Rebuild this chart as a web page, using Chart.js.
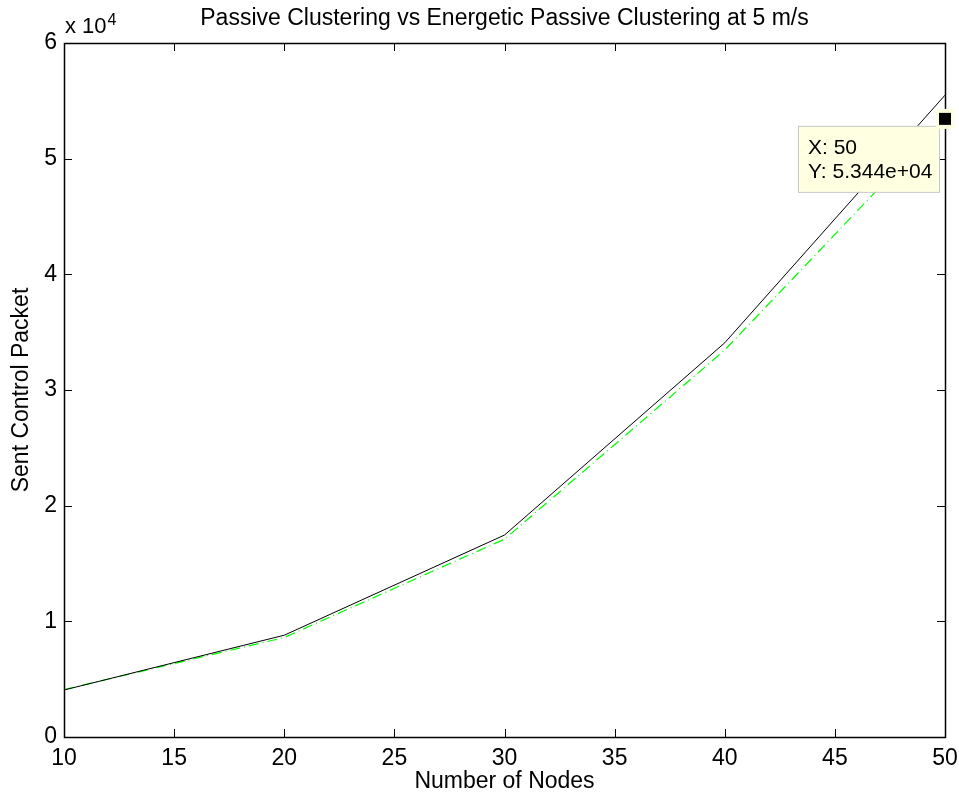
<!DOCTYPE html>
<html>
<head>
<meta charset="utf-8">
<script src="https://cdn.jsdelivr.net/npm/chart.js@4"></script>
<style>
    html, body { margin: 0; padding: 0; background: #fff; }
    #wrap { width: 959px; height: 798px; }
</style>
</head>
<body>
<div id="wrap"><canvas id="pcChart" width="959" height="798"></canvas></div>
<script>
// Data
const nodeCounts = [10, 20, 30, 40, 50];
const passiveClustering = [4060, 8800, 17460, 34080, 55490];
const energeticPassiveClustering = [4100, 8600, 17100, 33450, 53440];
const xTickValues = [10, 15, 20, 25, 30, 35, 40, 45, 50];
const yTickValues = [0, 10000, 20000, 30000, 40000, 50000, 60000];

// Data tip shown on the plot
const tipX = 50;
const tipY = 53440;
const tipLines = ['X: 50', 'Y: 5.344e+04'];

const chartTitle = 'Passive Clustering vs Energetic Passive Clustering at 5 m/s';
const FONT = '"Liberation Sans", Arial, Helvetica, sans-serif';

function toPoints(xs, ys) {
    return xs.map((x, i) => ({ x: x, y: ys[i] }));
}

// MATLAB style box with inward ticks, title over the axes, exponent label and data tip
const matlabAxes = {
    id: 'matlabAxes',
    afterDatasetsDraw(chart) {
        const ctx = chart.ctx;
        const area = chart.chartArea;
        const xs = chart.scales.x;
        const ys = chart.scales.y;
        const tick = 8;

        ctx.save();
        ctx.strokeStyle = '#000';
        ctx.lineWidth = 1;
        ctx.beginPath();
        xTickValues.forEach(v => {
            const px = Math.round(xs.getPixelForValue(v)) + 0.5;
            ctx.moveTo(px, area.bottom);
            ctx.lineTo(px, area.bottom - tick);
            ctx.moveTo(px, area.top);
            ctx.lineTo(px, area.top + tick);
        });
        yTickValues.forEach(v => {
            const py = Math.round(ys.getPixelForValue(v)) + 0.5;
            ctx.moveTo(area.left, py);
            ctx.lineTo(area.left + tick, py);
            ctx.moveTo(area.right, py);
            ctx.lineTo(area.right - tick, py);
        });
        ctx.stroke();

        ctx.lineWidth = 1.5;
        ctx.strokeRect(Math.round(area.left) + 0.5, Math.round(area.top) + 0.5,
            Math.round(area.right - area.left), Math.round(area.bottom - area.top));

        // title, centred over the axes like MATLAB does
        ctx.fillStyle = '#000';
        ctx.textAlign = 'center';
        ctx.textBaseline = 'alphabetic';
        ctx.font = '23px ' + FONT;
        ctx.fillText(chartTitle, (area.left + area.right) / 2, 25);

        // exponent label
        ctx.textAlign = 'left';
        ctx.font = '22px ' + FONT;
        ctx.fillText('x 10', area.left + 1, 33);
        const w = ctx.measureText('x 10').width;
        ctx.font = '16px ' + FONT;
        ctx.fillText('4', area.left + 2 + w, 25);

        // data tip
        const px = xs.getPixelForValue(tipX);
        const py = ys.getPixelForValue(tipY);
        const boxL = px - 147, boxT = py + 7, boxW = 141, boxH = 66;
        ctx.fillStyle = '#ffffe1';
        ctx.fillRect(boxL, boxT, boxW, boxH);
        ctx.strokeStyle = '#c8c8c8';
        ctx.lineWidth = 1;
        ctx.strokeRect(boxL + 0.5, boxT + 0.5, boxW, boxH);
        ctx.fillStyle = '#000';
        ctx.font = '21px ' + FONT;
        ctx.textBaseline = 'middle';
        ctx.fillText(tipLines[0], boxL + 10, boxT + 22);
        ctx.fillText(tipLines[1], boxL + 10, boxT + 46);

        ctx.fillStyle = '#ffffe1';
        ctx.fillRect(px - 9, py - 10, 18, 20);
        ctx.fillStyle = '#000';
        ctx.fillRect(px - 6, py - 6, 12, 12);
        ctx.restore();
    }
};

const ctx = document.getElementById('pcChart').getContext('2d');
const pcChart = new Chart(ctx, {
    type: 'line',
    data: {
        datasets: [{
            label: 'Passive Clustering',
            data: toPoints(nodeCounts, passiveClustering),
            borderColor: '#000000',
            borderWidth: 1,
            pointRadius: 0,
            tension: 0,
            fill: false
        }, {
            label: 'Energetic Passive Clustering',
            data: toPoints(nodeCounts, energeticPassiveClustering),
            borderColor: '#00ff00',
            borderWidth: 1.2,
            borderDash: [10, 4, 1, 4],
            pointRadius: 0,
            tension: 0,
            fill: false
        }]
    },
    options: {
        responsive: false,
        animation: false,
        layout: {
            padding: { top: 43, right: 14, left: 0, bottom: 0 }
        },
        plugins: {
            legend: { display: false },
            tooltip: { enabled: false },
            title: { display: false }
        },
        scales: {
            x: {
                type: 'linear',
                min: 10,
                max: 50,
                afterBuildTicks: (scale) => {
                    scale.ticks = xTickValues.map(v => ({ value: v }));
                },
                ticks: {
                    color: '#000',
                    font: { family: FONT, size: 23 },
                    padding: 8,
                    maxRotation: 0
                },
                grid: { display: false, drawTicks: false },
                border: { display: false },
                title: {
                    display: true,
                    text: 'Number of Nodes',
                    color: '#000',
                    font: { family: FONT, size: 23 },
                    padding: { top: 0, bottom: 3 }
                },
                afterFit: (scale) => {
                    scale.height = 61;
                    scale.paddingLeft = 0;
                    scale.paddingRight = 0;
                }
            },
            y: {
                min: 0,
                max: 60000,
                afterBuildTicks: (scale) => {
                    scale.ticks = yTickValues.map(v => ({ value: v }));
                },
                ticks: {
                    color: '#000',
                    font: { family: FONT, size: 23 },
                    padding: 7,
                    callback: (v) => String(v / 10000)
                },
                grid: { display: false, drawTicks: false },
                border: { display: false },
                title: {
                    display: true,
                    text: 'Sent Control Packet',
                    color: '#000',
                    font: { family: FONT, size: 23 },
                    padding: { top: 8, bottom: 0 }
                },
                afterFit: (scale) => {
                    scale.width = 64;
                    scale.paddingTop = 0;
                    scale.paddingBottom = 0;
                }
            }
        }
    },
    plugins: [matlabAxes]
});
</script>
</body>
</html>
